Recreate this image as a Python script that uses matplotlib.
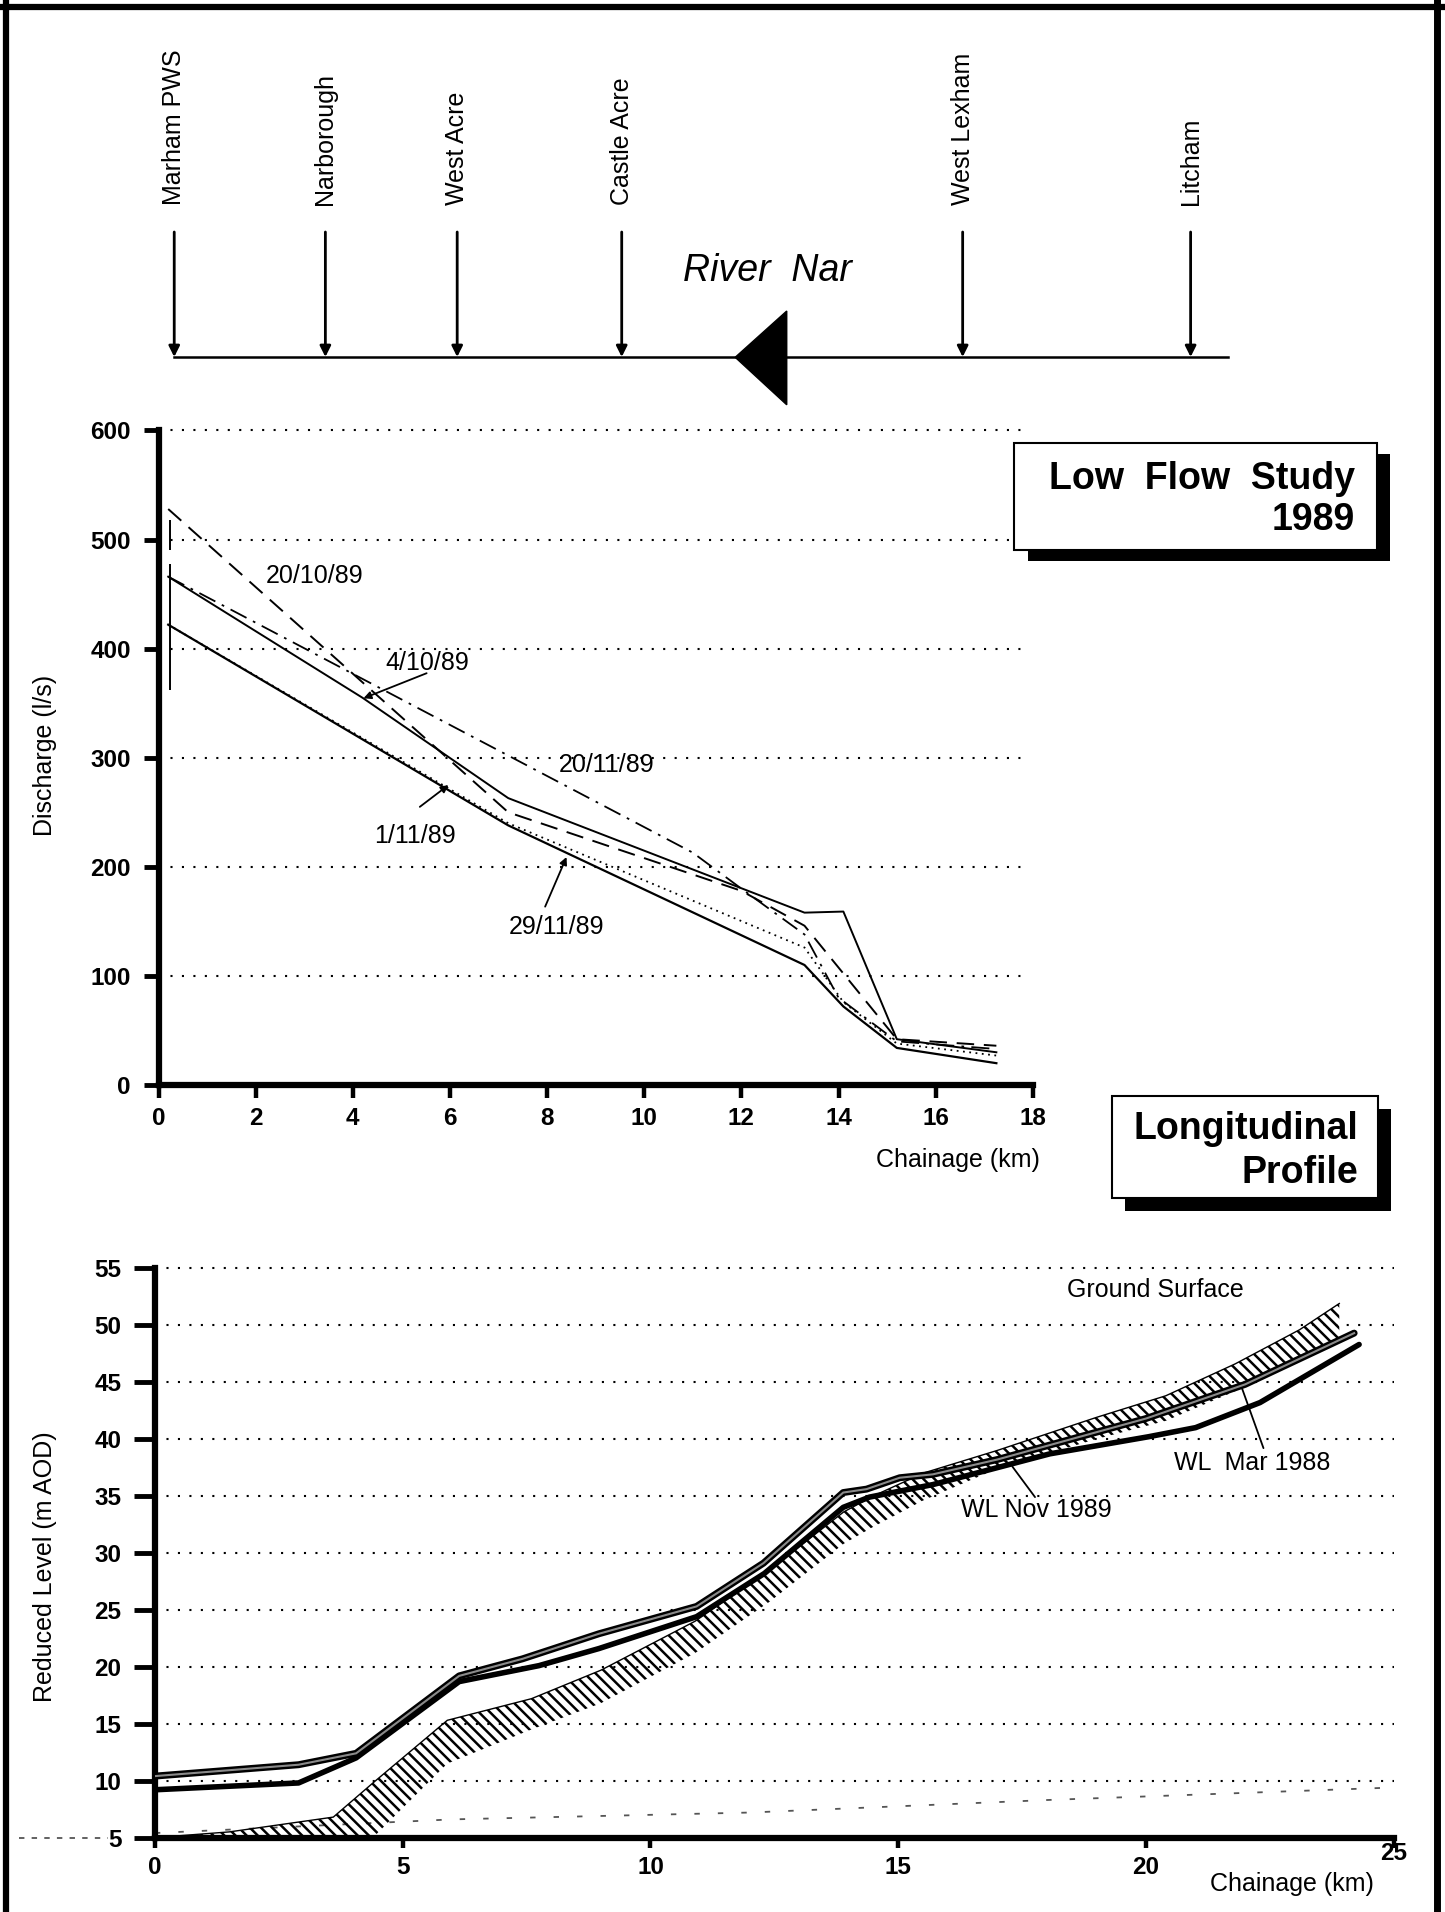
import matplotlib
matplotlib.use('Agg')
import matplotlib.pyplot as plt
from matplotlib.patches import Rectangle, Polygon
from matplotlib.transforms import ScaledTranslation

plt.rcParams['font.family'] = ['Liberation Sans', 'DejaVu Sans']
plt.rcParams['hatch.linewidth'] = 1.8

# ---------------- data ----------------
stations = ['Marham PWS', 'Narborough', 'West Acre', 'Castle Acre', 'West Lexham', 'Litcham']
station_km = [0.39, 3.44, 6.10, 9.42, 16.30, 20.90]
river_km = [0.39, 21.65]
flow_arrow_km = [11.71, 12.75]

# Low flow study 1989: discharge (l/s) vs chainage (km)
km_4oct = [0.2, 4.2, 7.2, 13.3, 14.1, 15.2, 17.25]
q_4oct = [466, 355, 263, 158, 159, 42, 30]
km_20oct = [0.2, 7.2, 12.0, 13.3, 15.2, 17.25]
q_20oct = [528, 250, 178, 146, 42, 36]
km_1nov = [0.2, 7.2, 13.3, 14.1, 15.2, 17.25]
q_1nov = [422, 238, 110, 72, 34, 20]
km_20nov = [0.2, 11.0, 12.0, 13.3, 14.0, 15.2, 17.25]
q_20nov = [466, 213, 180, 138, 80, 40, 33]
km_29nov = [0.2, 7.2, 13.3, 14.1, 15.2, 17.25]
q_29nov = [422, 240, 126, 76, 38, 27]
bar_km = [0.24, 0.24]
bar_lo = [490, 362]
bar_hi = [518, 478]

q_ticks = [0, 100, 200, 300, 400, 500, 600]
km_ticks_top = [0, 2, 4, 6, 8, 10, 12, 14, 16, 18]

# Longitudinal profile: reduced level (m AOD) vs chainage (km)
gs_km = [0, 1.5, 3.6, 4.4, 5.9, 7.6, 9.0, 10.9, 12.4, 13.9, 14.5, 15.5, 17.0, 19.0, 20.4, 21.8, 23.1, 23.9]
gs_top = [5.0, 5.5, 6.8, 9.8, 15.3, 17.2, 19.7, 24.0, 28.5, 33.6, 35.0, 37.0, 39.0, 41.9, 43.8, 46.6, 49.6, 51.9]
gs_base = [5.0, 5.0, 5.0, 5.0, 11.5, 14.5, 16.8, 21.2, 25.7, 30.8, 32.3, 34.6, 37.4, 40.0, 41.6, 44.2, 46.9, 48.9]
mar_km = [0, 2.9, 4.06, 6.14, 7.42, 8.96, 10.93, 12.28, 13.89, 14.36, 15.03, 15.7, 17.0, 20.0, 22.0, 24.2]
mar_wl = [10.4, 11.4, 12.4, 19.2, 20.7, 22.9, 25.3, 29.1, 35.3, 35.6, 36.6, 36.9, 38.2, 41.8, 44.8, 49.3]
nov_km = [0, 2.9, 4.06, 6.14, 7.75, 8.96, 10.93, 12.3, 13.89, 14.42, 15.7, 18.06, 20.05, 21.0, 22.3, 24.3]
nov_wl = [9.2, 9.8, 12.0, 18.7, 20.1, 21.6, 24.4, 28.2, 34.0, 34.9, 36.0, 38.7, 40.2, 41.0, 43.2, 48.3]
bed_km = [0, 6, 12, 18, 25]
bed_lvl = [5.4, 6.6, 7.2, 8.3, 9.4]

rl_ticks = [5, 10, 15, 20, 25, 30, 35, 40, 45, 50, 55]
km_ticks_bot = [0, 5, 10, 15, 20, 25]

# ---------------- figure ----------------
W, H = 1445, 1912
fig = plt.figure(figsize=(W / 100, H / 100), dpi=100)
fig.patch.set_facecolor('white')


def frac(x0, y0, x1, y1):
    return [x0 / W, 1 - y1 / H, (x1 - x0) / W, (y1 - y0) / H]


def style_axes(ax, ylen, xlen):
    for s in ['top', 'right']:
        ax.spines[s].set_visible(False)
    for s in ['left', 'bottom']:
        ax.spines[s].set_linewidth(4.5)
        ax.spines[s].set_capstyle('projecting')
    ax.tick_params(axis='y', direction='out', length=ylen, width=3.5, labelsize=17.5, pad=9)
    ax.tick_params(axis='x', direction='out', length=xlen, width=3.2, labelsize=17.5, pad=6)
    for lbl in ax.get_xticklabels() + ax.get_yticklabels():
        lbl.set_fontweight('bold')


# ---- top diagram (stations) ----
axd = fig.add_axes(frac(154.9, 0, 1393.8, 420))
axd.set_xlim(0, 25)
axd.set_ylim(420, 0)
axd.axis('off')
for name, km in zip(stations, station_km):
    axd.annotate('', xy=(km, 357), xytext=(km, 232),
                 arrowprops=dict(arrowstyle='-|>', color='black', lw=2.0,
                                 mutation_scale=16, shrinkA=0, shrinkB=0))
    axd.text(km, 205, name, rotation=90, ha='center', va='bottom', fontsize=18)
axd.plot(river_km, [357.3, 357.3], color='black', lw=1.8)
axd.add_patch(Polygon([(flow_arrow_km[0], 357.3), (flow_arrow_km[1], 311),
                       (flow_arrow_km[1], 404.8)], closed=True, color='black'))
axd.text(12.37, 271, 'River  Nar', style='italic', fontsize=27, ha='center', va='center')

# ---- discharge chart ----
ax1 = fig.add_axes(frac(158.5, 430.5, 1032.8, 1085))
ax1.set_xlim(0, 18)
ax1.set_ylim(0, 600)
ax1.set_xticks(km_ticks_top)
ax1.set_yticks(q_ticks)
ax1.hlines(q_ticks[1:], 0, 17.8, colors='black', linestyles=(0, (1, 4.5)), lw=1.5, clip_on=False)
ax1.plot(km_4oct, q_4oct, color='black', lw=1.4)
ax1.plot(km_20oct, q_20oct, color='black', lw=1.4, linestyle=(0, (9, 5)))
ax1.plot(km_1nov, q_1nov, color='black', lw=1.6)
ax1.plot(km_20nov, q_20nov, color='black', lw=1.3, linestyle=(0, (10, 4, 1.5, 4)))
ax1.plot(km_29nov, q_29nov, color='black', lw=1.3, linestyle=(0, (1, 2.5)))
ax1.vlines(bar_km, bar_lo, bar_hi, colors='black', lw=1.4)
style_axes(ax1, 11, 9.5)

tfs = 18
ax1.text(3.21, 467, '20/10/89', fontsize=tfs, ha='center', va='center')
ax1.text(5.54, 387, '4/10/89', fontsize=tfs, ha='center', va='center')
ax1.text(9.23, 293, '20/11/89', fontsize=tfs, ha='center', va='center')
ax1.text(5.28, 228, '1/11/89', fontsize=tfs, ha='center', va='center')
ax1.text(8.2, 145, '29/11/89', fontsize=tfs, ha='center', va='center')
aprops = dict(arrowstyle='-|>', color='black', lw=1.3, mutation_scale=11, shrinkA=0, shrinkB=0)
ax1.annotate('', xy=(4.22, 354.5), xytext=(5.52, 377.5), arrowprops=aprops)
ax1.annotate('', xy=(5.97, 275), xytext=(5.38, 255), arrowprops=aprops)
ax1.annotate('', xy=(8.4, 209), xytext=(7.96, 163.5), arrowprops=aprops)

ax1.set_xlabel('Chainage (km)', fontsize=18, ha='right', va='center')
ax1.xaxis.set_label_coords(1.008, -0.114)
ax1.set_ylabel('Discharge (l/s)', fontsize=18, va='center')
ax1.yaxis.set_label_coords(-0.13, 0.503)

# ---- longitudinal profile ----
ax2 = fig.add_axes(frac(154.9, 1268.2, 1393.8, 1837.6))
ax2.set_xlim(0, 25)
ax2.set_ylim(5, 55)
ax2.set_xticks(km_ticks_bot)
ax2.set_yticks(rl_ticks)
ax2.hlines(rl_ticks[1:], 0, 25, colors='black', linestyles=(0, (1, 4.5)), lw=1.5, clip_on=False)
ax2.plot(bed_km, bed_lvl, color='#555555', lw=1.3, linestyle=(0, (3, 10)))
ax2.plot([-2.75, -0.95], [5, 5], color='#555555', lw=1.3, linestyle=(0, (3, 4)), clip_on=False)
ax2.fill_between(gs_km, gs_base, gs_top, facecolor='none', edgecolor='black',
                 hatch='\\' * 3, linewidth=0, zorder=2)
ax2.plot(gs_km, gs_top, color='black', lw=1.0, zorder=2)
ax2.plot(nov_km, nov_wl, color='black', lw=4.0, solid_capstyle='round', zorder=3)
ax2.plot(mar_km, mar_wl, color='black', lw=5.0, solid_capstyle='round', zorder=4)
ax2.plot(mar_km, mar_wl, color='#8a8a8a', lw=1.5, zorder=5)
style_axes(ax2, 15, 7)

ax2.text(20.18, 53.1, 'Ground Surface', fontsize=18, ha='center', va='center')
ax2.text(22.14, 37.9, 'WL  Mar 1988', fontsize=18, ha='center', va='center')
ax2.text(17.79, 33.8, 'WL Nov 1989', fontsize=18, ha='center', va='center')
lprops = dict(arrowstyle='-', color='black', lw=1.3, shrinkA=0, shrinkB=0)
ax2.annotate('', xy=(21.9, 44.9), xytext=(22.37, 39.2), arrowprops=lprops)
ax2.annotate('', xy=(17.3, 37.6), xytext=(17.76, 34.9), arrowprops=lprops)

ax2.set_xlabel('Chainage (km)', fontsize=18, ha='right', va='center')
ax2.xaxis.set_label_coords(0.984, -0.0815)
ax2.set_ylabel('Reduced Level (m AOD)', fontsize=18, va='center')
ax2.yaxis.set_label_coords(-0.0891, 0.475)

last = ax2.xaxis.get_major_ticks()[-1]
last.label1.set_transform(last.label1.get_transform() +
                          ScaledTranslation(0.0, 10 / 72, fig.dpi_scale_trans))

# ---- overlay: frame and title boxes ----
ov = fig.add_axes([0, 0, 1, 1], zorder=10)
ov.set_xlim(0, W)
ov.set_ylim(H, 0)
ov.axis('off')
ov.patch.set_visible(False)
ov.plot([6, 6], [0, H], color='black', lw=4.5)
ov.plot([0, W], [7, 7], color='black', lw=4.5)
ov.plot([1437, 1437], [0, H], color='black', lw=5)


def title_box(x0, y0, x1, y1, dx, dy):
    ov.add_patch(Rectangle((x0 + dx, y0 + dy), x1 - x0, y1 - y0, facecolor='black', edgecolor='none'))
    ov.add_patch(Rectangle((x0, y0), x1 - x0, y1 - y0, facecolor='white', edgecolor='black', lw=1.5))


title_box(1014, 443, 1376.7, 550, 13.5, 11)
ov.text(1355, 489, 'Low  Flow  Study', ha='right', va='baseline', fontsize=27, fontweight='bold')
ov.text(1355, 530, '1989', ha='right', va='baseline', fontsize=27, fontweight='bold')
title_box(1111.7, 1096, 1378.3, 1198, 13, 13)
ov.text(1358, 1139, 'Longitudinal', ha='right', va='baseline', fontsize=27, fontweight='bold')
ov.text(1358, 1183, 'Profile', ha='right', va='baseline', fontsize=27, fontweight='bold')

fig.savefig('out.png', dpi=100, facecolor='white')
